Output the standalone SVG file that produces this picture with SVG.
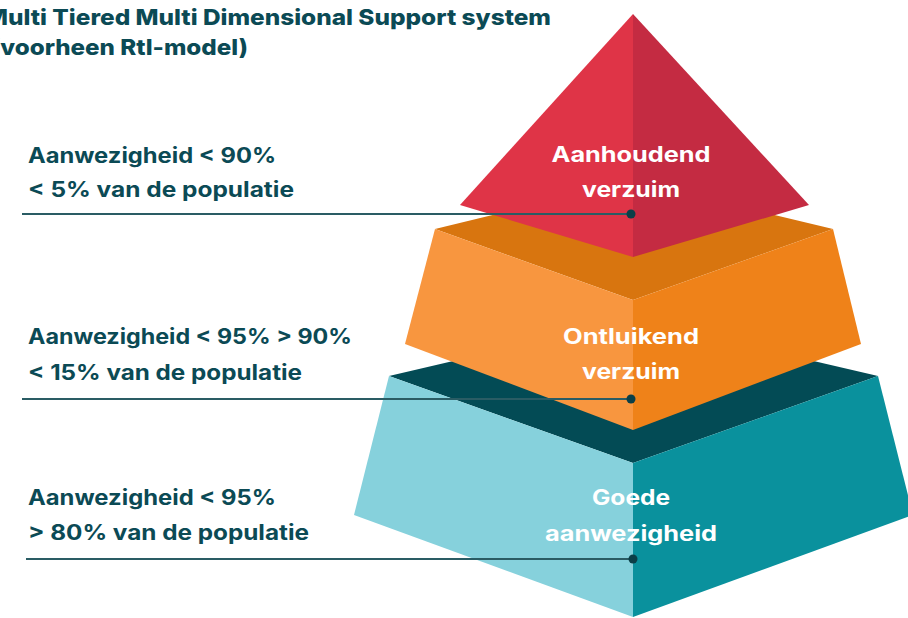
<svg xmlns="http://www.w3.org/2000/svg" width="908" height="618" viewBox="0 0 908 618">
<style>
.title{font-family:Inter,"Open Sans","Liberation Sans",sans-serif;font-weight:800;font-size:22px;fill:#0B4A55}
.lbl{font-family:Inter,"Open Sans","Liberation Sans",sans-serif;font-weight:700;font-size:21px;fill:#0B4A55}
.tier{font-family:Inter,"Open Sans","Liberation Sans",sans-serif;font-weight:700;font-size:21px;fill:#FFFFFF;text-anchor:middle}
.conn{stroke:#2A5C64;stroke-width:2;fill:none}
.dot{fill:#0B3F48}
</style>
<rect width="908" height="618" fill="#FFFFFF"/>
<g id="title">
<text class="title" x="-15" y="25" textLength="566" lengthAdjust="spacingAndGlyphs">Multi Tiered Multi Dimensional Support system</text>
<text class="title" x="-9" y="55" textLength="257" lengthAdjust="spacingAndGlyphs">(voorheen RtI-model)</text>
</g>
<g id="tier-goede">
<polygon points="389,376 633,319 878,376 633,463" fill="#034B55"/>
<polygon points="389,376 633,463 633,617 354,515" fill="#86D1DC"/>
<polygon points="633,463 878,376 913,515 633,617" fill="#0A919D"/>
</g>
<g id="tier-ontluikend">
<polygon points="435,229 633,181 833,229 633,300" fill="#D8750F"/>
<polygon points="435,229 633,300 633,430 405,344" fill="#F8963F"/>
<polygon points="633,300 833,229 861,344 633,430" fill="#EF8219"/>
</g>
<g id="tier-aanhoudend">
<polygon points="633,14 633,257 460,205" fill="#DF3447"/>
<polygon points="633,14 809,205 633,257" fill="#C42B42"/>
</g>
<g id="connectors">
<line class="conn" x1="22" y1="214" x2="631" y2="214"/>
<circle class="dot" cx="631" cy="214" r="4.5"/>
<line class="conn" x1="22" y1="399" x2="631" y2="399"/>
<circle class="dot" cx="631" cy="399" r="4.5"/>
<line class="conn" x1="26" y1="559" x2="633" y2="559"/>
<circle class="dot" cx="633" cy="559" r="4.5"/>
</g>
<g id="label-aanhoudend">
<text class="tier" x="631" y="162" textLength="159" lengthAdjust="spacingAndGlyphs">Aanhoudend</text>
<text class="tier" x="631" y="197" textLength="98" lengthAdjust="spacingAndGlyphs">verzuim</text>
</g>
<g id="label-ontluikend">
<text class="tier" x="631" y="344" textLength="136" lengthAdjust="spacingAndGlyphs">Ontluikend</text>
<text class="tier" x="631" y="379" textLength="98" lengthAdjust="spacingAndGlyphs">verzuim</text>
</g>
<g id="label-goede">
<text class="tier" x="631" y="505" textLength="78" lengthAdjust="spacingAndGlyphs">Goede</text>
<text class="tier" x="631" y="541" textLength="172" lengthAdjust="spacingAndGlyphs">aanwezigheid</text>
</g>
<g id="desc-aanhoudend">
<text class="lbl" x="28" y="163" textLength="248" lengthAdjust="spacingAndGlyphs">Aanwezigheid &lt; 90%</text>
<text class="lbl" x="28" y="197" textLength="266" lengthAdjust="spacingAndGlyphs">&lt; 5% van de populatie</text>
</g>
<g id="desc-ontluikend">
<text class="lbl" x="28" y="344" textLength="324" lengthAdjust="spacingAndGlyphs">Aanwezigheid &lt; 95% &gt; 90%</text>
<text class="lbl" x="28" y="380" textLength="274" lengthAdjust="spacingAndGlyphs">&lt; 15% van de populatie</text>
</g>
<g id="desc-goede">
<text class="lbl" x="28" y="505" textLength="248" lengthAdjust="spacingAndGlyphs">Aanwezigheid &lt; 95%</text>
<text class="lbl" x="28" y="540" textLength="281" lengthAdjust="spacingAndGlyphs">&gt; 80% van de populatie</text>
</g>
</svg>
